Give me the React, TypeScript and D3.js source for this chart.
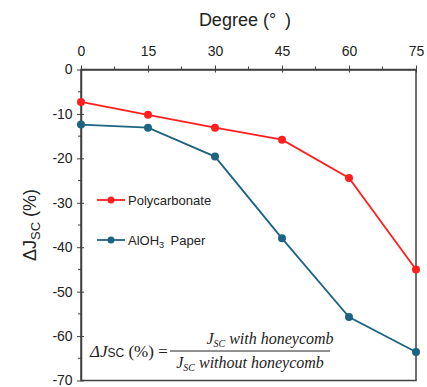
import React, { useRef, useEffect } from "react";
import * as d3 from "d3";

const degrees = [0, 15, 30, 45, 60, 75];
const polycarbonate = [-7.3, -10.2, -13.1, -15.8, -24.4, -45.0];
const alohPaper = [-12.4, -13.1, -19.6, -38.0, -55.7, -63.6];
const xTicks = [0, 15, 30, 45, 60, 75];
const yTicks = [0, -10, -20, -30, -40, -50, -60, -70];

const RED = "#ff1f1f";
const BLUE = "#1d6384";
const FONT = "Liberation Sans, Arial, sans-serif";

const App = () => {
  const svgRef = useRef<SVGSVGElement>(null);

  useEffect(() => {
    const width = 427, height = 387;
    const svg = d3.select(svgRef.current)
      .attr("width", width)
      .attr("height", height)
      .style("background", "#fff")
      .style("display", "block");
    svg.selectAll("*").remove();

    const x = d3.scaleLinear().domain([0, 75]).range([81, 416]);
    const y = d3.scaleLinear().domain([0, -70]).range([69.5, 380.5]);

    // Frame
    svg.append("rect")
      .attr("x", x(0)).attr("y", y(0))
      .attr("width", x(75) - x(0)).attr("height", y(-70) - y(0))
      .attr("fill", "none").attr("stroke", "#404040").attr("stroke-width", 1.5);

    // Top axis
    const xAxis = svg.append("g")
      .attr("transform", `translate(0,${y(0)})`)
      .call(d3.axisTop(x).tickValues(xTicks).tickFormat(d => String(d)).tickSize(4).tickSizeOuter(0));
    xAxis.select(".domain").attr("stroke", "#404040").attr("stroke-width", 1.5);
    xAxis.selectAll(".tick line").attr("stroke", "#404040").attr("y2", 3).attr("y1", -4);
    xAxis.selectAll("text").attr("font-family", FONT).attr("font-size", 14).attr("fill", "#222").attr("dy", "-0.5em");
    svg.append("g").selectAll("line")
      .data(d3.range(7.5, 75, 15))
      .enter().append("line")
      .attr("x1", d => x(d)).attr("x2", d => x(d))
      .attr("y1", y(0)).attr("y2", y(0) - 3)
      .attr("stroke", "#404040");

    // Left axis
    const yAxis = svg.append("g")
      .attr("transform", `translate(${x(0)},0)`)
      .call(d3.axisLeft(y).tickValues(yTicks).tickFormat(d => String(d)).tickSize(4).tickSizeOuter(0));
    yAxis.select(".domain").attr("stroke", "#404040").attr("stroke-width", 1.5);
    yAxis.selectAll(".tick line").attr("stroke", "#404040").attr("x1", 3).attr("x2", -4);
    yAxis.selectAll("text").attr("font-family", FONT).attr("font-size", 14).attr("fill", "#222").attr("dx", "-0.1em");
    svg.append("g").selectAll("line")
      .data(d3.range(-5, -70, -10))
      .enter().append("line")
      .attr("x1", x(0)).attr("x2", x(0) - 3)
      .attr("y1", d => y(d)).attr("y2", d => y(d))
      .attr("stroke", "#404040");

    // Axis titles
    svg.append("text")
      .attr("x", 245).attr("y", 26)
      .attr("text-anchor", "middle")
      .attr("font-family", FONT).attr("font-size", 18).attr("fill", "#222")
      .text("Degree (°\u2002)");

    const yt = svg.append("text")
      .attr("transform", `translate(36,${y(-35)}) rotate(-90)`)
      .attr("text-anchor", "middle")
      .attr("font-family", FONT).attr("font-size", 18).attr("fill", "#222");
    yt.append("tspan").text("ΔJ");
    yt.append("tspan").attr("font-size", 13).attr("dy", 4).text("SC");
    yt.append("tspan").attr("dy", -4).text(" (%)");

    // Series
    const series = [
      { name: "Polycarbonate", values: polycarbonate, color: RED },
      { name: "AlOH3 Paper", values: alohPaper, color: BLUE },
    ];
    const line = d3.line<number>()
      .x((_, i) => x(degrees[i]))
      .y(d => y(d));

    series.forEach(s => {
      svg.append("path")
        .datum(s.values)
        .attr("fill", "none")
        .attr("stroke", s.color)
        .attr("stroke-width", 1.8)
        .attr("d", line);
      svg.append("g").selectAll("circle")
        .data(s.values)
        .enter().append("circle")
        .attr("cx", (_, i) => x(degrees[i]))
        .attr("cy", d => y(d))
        .attr("r", 4)
        .attr("fill", s.color);
    });

    // Legend
    const legendY = [200, 240];
    series.forEach((s, i) => {
      const g = svg.append("g");
      g.append("line")
        .attr("x1", 97).attr("x2", 125)
        .attr("y1", legendY[i]).attr("y2", legendY[i])
        .attr("stroke", s.color).attr("stroke-width", 1.8);
      g.append("circle").attr("cx", 111).attr("cy", legendY[i]).attr("r", 3.5).attr("fill", s.color);
      const t = g.append("text")
        .attr("x", 128).attr("y", legendY[i] + 4.5)
        .attr("font-family", FONT).attr("font-size", 13).attr("fill", "#222");
      if (i === 0) {
        t.text("Polycarbonate");
      } else {
        t.append("tspan").text("AlOH");
        t.append("tspan").attr("font-size", 9).attr("dy", 3).text("3");
        t.append("tspan").attr("dy", -3).text("\u2002Paper");
      }
    });

    // Formula
    const SERIF = "Liberation Serif, DejaVu Serif, serif";
    const f = svg.append("text")
      .attr("x", 90).attr("y", 357)
      .attr("font-family", SERIF).attr("font-size", 17).attr("fill", "#222");
    f.append("tspan").attr("font-style", "italic").text("ΔJ");
    f.append("tspan").attr("font-size", 12).attr("font-family", FONT).text("SC");
    f.append("tspan").text(" (%) =");

    const num = svg.append("text")
      .attr("x", 270).attr("y", 344).attr("text-anchor", "middle")
      .attr("font-family", SERIF).attr("font-size", 16).attr("font-style", "italic").attr("fill", "#222");
    num.append("tspan").text("J");
    num.append("tspan").attr("font-size", 10).attr("dy", 3).text("SC");
    num.append("tspan").attr("dy", -3).text(" with honeycomb");

    svg.append("line")
      .attr("x1", 170).attr("x2", 330)
      .attr("y1", 351).attr("y2", 351)
      .attr("stroke", "#222").attr("stroke-width", 1);

    const den = svg.append("text")
      .attr("x", 250).attr("y", 368).attr("text-anchor", "middle")
      .attr("font-family", SERIF).attr("font-size", 16).attr("font-style", "italic").attr("fill", "#222");
    den.append("tspan").text("J");
    den.append("tspan").attr("font-size", 10).attr("dy", 3).text("SC");
    den.append("tspan").attr("dy", -3).text(" without honeycomb");
  }, []);

  return (
    <div style={{ position: "absolute", left: 0, top: 0, width: 427, height: 387, overflow: "hidden" }}>
      <svg ref={svgRef}></svg>
    </div>
  );
};

export default App;
